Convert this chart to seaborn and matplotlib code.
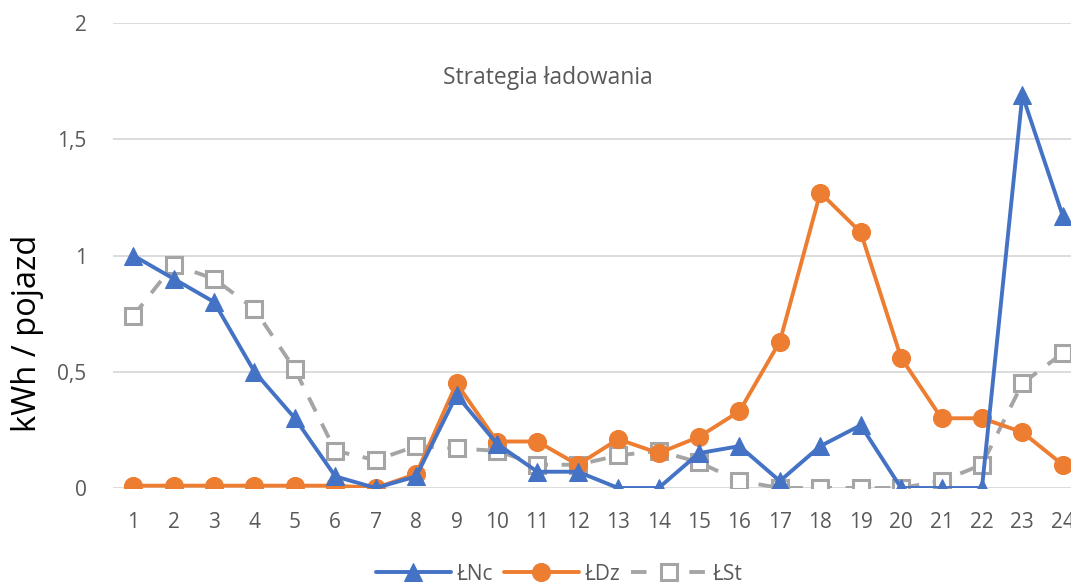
import matplotlib
matplotlib.use("Agg")
import matplotlib.pyplot as plt
import seaborn as sns
import pandas as pd

# Hourly charging energy per vehicle for three charging strategies
hours = list(range(1, 25))
lnc = [1.00, 0.90, 0.80, 0.50, 0.30, 0.05, 0.00, 0.05, 0.40, 0.19, 0.07, 0.07,
       0.00, 0.00, 0.15, 0.18, 0.03, 0.18, 0.27, 0.00, 0.00, 0.00, 1.69, 1.17]
ldz = [0.01, 0.01, 0.01, 0.01, 0.01, 0.01, 0.00, 0.06, 0.45, 0.20, 0.20, 0.10,
       0.21, 0.15, 0.22, 0.33, 0.63, 1.27, 1.10, 0.56, 0.30, 0.30, 0.24, 0.10]
lst = [0.74, 0.96, 0.90, 0.77, 0.51, 0.16, 0.12, 0.18, 0.17, 0.16, 0.10, 0.10,
       0.14, 0.16, 0.11, 0.03, 0.00, 0.00, 0.00, 0.00, 0.03, 0.10, 0.45, 0.58]
series_names = ["ŁNc", "ŁDz", "ŁSt"]
y_ticks = [0, 0.5, 1, 1.5, 2]
y_tick_labels = ["0", "0,5", "1", "1,5", "2"]

sns.set_theme(style="white")
plt.rcParams["font.family"] = ["Open Sans", "DejaVu Sans"]

W, H = 1071, 583
fig = plt.figure(figsize=(W / 100, H / 100), dpi=100)
left, right, top, bottom = 113, 1083, 23, 488
ax = fig.add_axes([left / W, (H - bottom) / H, (right - left) / W, (bottom - top) / H])

df = pd.DataFrame({"hour": hours, "ŁNc": lnc, "ŁDz": ldz, "ŁSt": lst})

blue, orange, gray = "#4472C4", "#ED7D31", "#A5A5A5"
sns.lineplot(data=df, x="hour", y="ŁNc", ax=ax, color=blue, lw=2.8,
             marker="^", markersize=13, markeredgecolor=blue, markerfacecolor=blue,
             label=series_names[0], zorder=4)
sns.lineplot(data=df, x="hour", y="ŁDz", ax=ax, color=orange, lw=2.8,
             marker="o", markersize=13, markeredgecolor=orange, markerfacecolor=orange,
             label=series_names[1], zorder=3)
sns.lineplot(data=df, x="hour", y="ŁSt", ax=ax, color=gray, lw=2.8,
             marker="s", markersize=11.5, markeredgecolor=gray, markerfacecolor="white",
             markeredgewidth=2.2, dashes=(4, 3.5), label=series_names[2], zorder=2)

ax.set_xlim(0.5, 24.5)
ax.set_ylim(0, 2)
ax.set_xticks(hours)
ax.set_xticklabels([str(h) for h in hours])
ax.set_yticks(y_ticks)
ax.set_yticklabels(y_tick_labels)
ax.tick_params(axis="both", length=0, labelsize=15, labelcolor="#595959")
ax.tick_params(axis="x", pad=17)
ax.tick_params(axis="y", pad=19)
ax.grid(axis="y", color="#D9D9D9", lw=1.3)
ax.set_axisbelow(True)
for s in ax.spines.values():
    s.set_visible(False)

ax.set_xlabel("")
ax.set_ylabel("")
fig.text(28 / W, 1 - 333 / H, "kWh / pojazd", rotation=90, ha="center", va="center",
         fontsize=23.5, color="black")

fig.text(548 / W, 1 - 78 / H, "Strategia ładowania", ha="center", va="center",
         fontsize=16.5, color="#595959")

leg = ax.legend(loc="center", bbox_to_anchor=(559 / W, 1 - 574 / H),
                bbox_transform=fig.transFigure, ncol=3, frameon=False,
                fontsize=15, handlelength=3.6, columnspacing=0.5, handletextpad=0.3,
                labelcolor="#595959")

fig.savefig("out.png", dpi=100)
